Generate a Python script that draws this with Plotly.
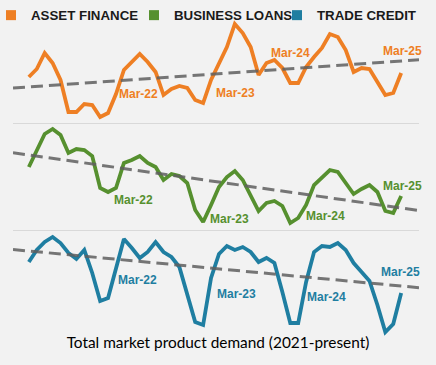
import plotly.graph_objects as go

# ---- data (monthly, Apr-21 .. Mar-25; unlabelled index values) ----
month_names = ["Jan", "Feb", "Mar", "Apr", "May", "Jun", "Jul", "Aug", "Sep", "Oct", "Nov", "Dec"]
months = []
for yr in range(21, 26):
    for m in month_names:
        months.append(f"{m}-{yr}")
months = months[months.index("Apr-21"):months.index("Mar-25") + 1]

series_names = ["ASSET FINANCE", "BUSINESS LOANS", "TRADE CREDIT"]
series_colors = ["#EE7F24", "#56902F", "#1F7EA1"]

asset_finance = [46, 54, 70, 60, 43, 11, 11, 19, 18, 6, 10, 29, 53, 61, 69, 61, 51, 28, 34, 37,
                 35, 23, 20, 43, 60, 76, 99, 90, 76, 48, 60, 63, 55, 40, 40, 56, 66, 75, 89, 86,
                 73, 51, 55, 54, 41, 28, 30, 50]
business_loans = [63, 80, 96, 101, 95, 77, 81, 80, 74, 42, 38, 42, 67, 70, 74, 67, 63, 50, 56, 54,
                  47, 20, 8, 25, 43, 53, 59, 50, 35, 19, 27, 29, 24, 7, 12, 25, 45, 53, 60, 58,
                  47, 36, 41, 45, 38, 19, 17, 34]
trade_credit = [75, 87, 95, 100, 94, 84, 78, 87, 64, 36, 39, 70, 98, 89, 79, 85, 95, 85, 80, 70,
                42, 15, 12, 59, 83, 91, 87, 90, 85, 75, 79, 74, 45, 14, 14, 55, 85, 91, 90, 94,
                87, 74, 65, 56, 32, 5, 13, 44]

# linear trend values at the first and last month of each series
trend_start = [36, 75, 86]
trend_end = [62, 22, 51]

label_months = ["Mar-22", "Mar-23", "Mar-24", "Mar-25"]
title_text = "Total market product demand (2021-present)"

# ---- figure ----
all_series = [asset_finance, business_loans, trade_credit]
W, H = 436, 365
ML, MR = 13, 17
panels_px = [(15, 123), (123, 230), (230, 337)]  # top, bottom in pixels
y_ranges = [[0, 108], [0, 107], [0, 107]]
x_range = [-2.0, 49.25]
xs = list(range(len(months)))
legend_ids = ["legend", "legend2", "legend3"]
legend_left_px = [-9, 134, 277]

fig = go.Figure()
layout_axes = {}
for i, (vals, col, name) in enumerate(zip(all_series, series_colors, series_names)):
    n = i + 1
    xa = "x" if n == 1 else f"x{n}"
    ya = "y" if n == 1 else f"y{n}"
    fig.add_trace(go.Scatter(x=xs, y=vals, mode="lines", xaxis=xa, yaxis=ya,
                             line=dict(color=col, width=3.8), showlegend=False,
                             name=name, hoverinfo="skip"))
    # trend line across the full axis range
    a, b = trend_start[i], trend_end[i]
    slope = (b - a) / (len(months) - 1)
    tx = [x_range[0], x_range[1]]
    ty = [a + slope * t for t in tx]
    fig.add_trace(go.Scatter(x=tx, y=ty, mode="lines", xaxis=xa, yaxis=ya,
                             line=dict(color="rgba(95,95,95,0.85)", width=3, dash="12px,6px"),
                             showlegend=False, hoverinfo="skip"))
    # legend swatch
    fig.add_trace(go.Scatter(x=[None], y=[None], mode="markers", name=name, xaxis=xa, yaxis=ya,
                             marker=dict(symbol="square", size=10, color=col),
                             showlegend=True, legend=legend_ids[i]))
    top, bot = panels_px[i]
    layout_axes[f"xaxis{'' if n == 1 else n}"] = dict(
        range=x_range, domain=[0, 1], showgrid=False, zeroline=False,
        showticklabels=False, ticks="", anchor=ya,
        showline=(n < 3), linecolor="#D9D9D9", linewidth=1, mirror=False,
    )
    layout_axes[f"yaxis{'' if n == 1 else n}"] = dict(
        range=y_ranges[i], domain=[(H - bot) / H, (H - top) / H], showgrid=False,
        zeroline=False, showticklabels=False, ticks="", anchor=xa,
    )
    # month labels
    offsets = [
        [(23, 0), (24, -13), (-16, 14), (1, 22)],
        [(18, -12), (18, -14), (19, -11), (1, 10)],
        [(22, -13), (25, -16), (20, -15), (-1, 21)],
    ][i]
    for lm, (dx, dy) in zip(label_months, offsets):
        k = months.index(lm)
        fig.add_annotation(x=k, y=vals[k], xref=xa, yref=ya, text=lm, showarrow=False,
                           xshift=dx, yshift=dy,
                           font=dict(family="Liberation Sans", size=12, color=col, weight="bold"))

legend_font = dict(family="Liberation Sans", size=13.3, color="#1A1A1A", weight="bold")
legend_layout = {}
for lid, lx in zip(legend_ids, legend_left_px):
    legend_layout[lid] = dict(orientation="h", x=(lx - ML) / (W - ML - MR), y=1.0,
                              xref="paper", yref="container", xanchor="left", yanchor="top",
                              bgcolor="rgba(0,0,0,0)", font=legend_font)

fig.update_layout(
    width=W, height=H,
    margin=dict(l=ML, r=MR, t=0, b=0, autoexpand=False),
    paper_bgcolor="#F2F2F2", plot_bgcolor="#F2F2F2",
    showlegend=True,
    title=dict(text=title_text, x=0.5, xanchor="center", y=1 - 343 / H, yanchor="middle",
               xref="container", yref="container",
               font=dict(family="Lato", size=15.4, color="#000000")),
    **legend_layout,
    **layout_axes,
)

fig.write_html("out.html", config={"displayModeBar": False},
               post_script="document.body.style.margin='0';document.body.style.background='#F2F2F2';")
